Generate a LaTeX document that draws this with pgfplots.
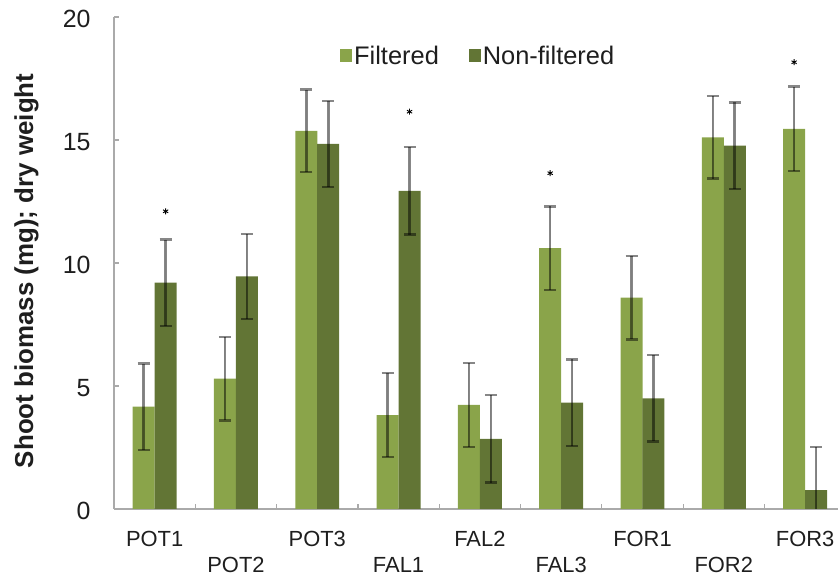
\documentclass[border=0pt]{standalone}
\usepackage{pgfplots}
\pgfplotsset{compat=1.18}
\usepackage{fontspec}
\setmainfont{Liberation Sans}
\usetikzlibrary{plotmarks}
\definecolor{lg}{RGB}{138,164,74}
\definecolor{dg}{RGB}{98,117,53}
\definecolor{axgray}{RGB}{170,170,170}
\definecolor{txt}{RGB}{30,30,30}
\begin{document}
\begin{tikzpicture}[x=1bp,y=1bp]
\path[use as bounding box] (0,0) rectangle (838,583);
\begin{axis}[
  at={(114bp,74bp)}, anchor=south west,
  scale only axis, width=724bp, height=492bp,
  xmin=-0.5, xmax=8.405, ymin=0, ymax=20,
  axis lines=left,
  axis line style={axgray, line width=1.3bp, -},
  tick align=inside,
  major tick length=5bp, minor tick length=5bp,
  tick style={axgray, line width=1.2bp},
  ytick={0,5,10,15,20},
  xtick={0,2,4,6,8},
  xticklabels={POT1,POT3,FAL2,FOR1,FOR3},
  every major x tick/.append style={opacity=0},
  minor xtick={0.5,1.5,2.5,3.5,4.5,5.5,6.5,7.5},
  extra x ticks={1,3,5,7},
  extra x tick labels={POT2,FAL1,FAL3,FOR2},
  extra x tick style={major tick length=0pt, xticklabel style={yshift=-26bp}},
  /pgf/number format/assume math mode=true,
  xticklabel style={font=\fontsize{22}{26}\selectfont, text=txt, yshift=-19bp},
  yticklabel style={font=\fontsize{25}{29}\selectfont, text=txt, xshift=-20bp, yshift=-2bp},
  ylabel={Shoot biomass (mg); dry weight},
  every axis y label/.style={at={(axis description cs:-0.121,0.484)}, rotate=90, anchor=center, font=\fontsize{26}{30}\selectfont\bfseries, text=txt},
  legend columns=2,
  legend style={draw=none, fill=none, at={(0.503,0.921)}, anchor=center, font=\fontsize{25.5}{29}\selectfont, text=txt,
    /tikz/every even column/.append style={column sep=28bp}},
  legend image code/.code={\fill[#1] (0bp,-6.5bp) rectangle (12bp,6.5bp);},
]
\addplot[ybar, bar width=22bp, bar shift=0pt, fill=lg, draw=none,
  error bars/.cd, y dir=both, y explicit,
  error bar style={line width=2.6bp, black, opacity=0.47},
  error mark options={rotate=90, mark size=6bp, line width=2.4bp, black, opacity=0.47}]
  coordinates {
  (-0.135,4.16) +- (0,1.75)
  (0.865,5.30) +- (0,1.70)
  (1.865,15.37) +- (0,1.68)
  (2.865,3.82) +- (0,1.70)
  (3.865,4.23) +- (0,1.70)
  (4.865,10.60) +- (0,1.70)
  (5.865,8.59) +- (0,1.70)
  (6.865,15.11) +- (0,1.68)
  (7.865,15.45) +- (0,1.72)
  };
\addlegendentry{Filtered}
\addplot[ybar, bar width=22bp, bar shift=0pt, fill=dg, draw=none,
  error bars/.cd, y dir=both, y explicit,
  error bar style={line width=2.6bp, black, opacity=0.47},
  error mark options={rotate=90, mark size=6bp, line width=2.4bp, black, opacity=0.47}]
  coordinates {
  (0.135,9.20) +- (0,1.75)
  (1.135,9.46) +- (0,1.73)
  (2.135,14.84) +- (0,1.75)
  (3.135,12.93) +- (0,1.78)
  (4.135,2.85) +- (0,1.78)
  (5.135,4.32) +- (0,1.76)
  (6.135,4.50) +- (0,1.75)
  (7.135,14.77) +- (0,1.76)
  (8.135,0.77) +- (0,1.76)
  };
\addlegendentry{Non-filtered}
\addplot[only marks, mark=asterisk, mark size=3bp, mark options={black, line width=0.9bp}, forget plot]
  coordinates {(0.135,12.1) (3.135,16.15) (4.865,13.65) (7.865,18.16)};
\end{axis}
\end{tikzpicture}
\end{document}
